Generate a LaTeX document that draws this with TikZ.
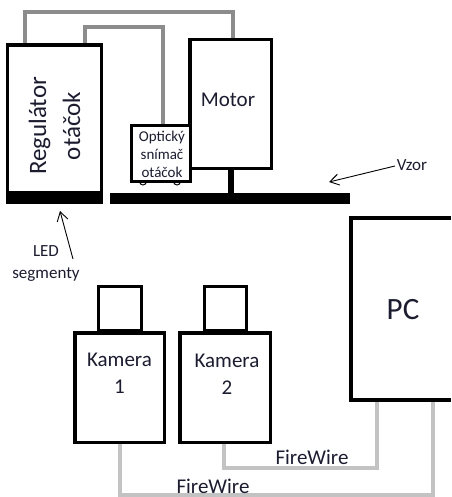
\documentclass[tikz,border=0pt]{standalone}
\usepackage{fontspec}
\setmainfont{Carlito}
\usetikzlibrary{arrows.meta,backgrounds}
\definecolor{txt}{RGB}{28,28,48}
\definecolor{ctrlgray}{RGB}{140,140,140}
\definecolor{fwgray}{RGB}{195,195,195}
\tikzset{
  box/.style={draw=black,line width=3.5pt,fill=white,inner sep=0pt,outer sep=0pt},
  barfill/.style={fill=black,draw=none,inner sep=0pt,outer sep=0pt},
  lbl/.style={text=txt,inner sep=0pt,outer sep=0pt,align=center,execute at begin node={\lineskiplimit=-50pt\lineskip=0pt}},
  ctrl/.style={draw=ctrlgray,line width=4pt},
  fw/.style={draw=fwgray,line width=4pt},
  pointer/.style={draw=black,line width=0.9pt,-{Straight Barb[length=9pt,width=11pt,line width=0.9pt]}},
}
\begin{document}
\begin{tikzpicture}[x=1pt,y=-1pt]
\useasboundingbox (0,0) rectangle (451,497);

% bars
\node[barfill,minimum width=97pt,minimum height=11pt] (led) at (54.5,198) {};
\node[barfill,minimum width=240pt,minimum height=11pt] (vzorbar) at (230,198.5) {};

% regulator
\node[box,minimum width=94pt,minimum height=148pt] (reg) at (54.5,119) {};
\node[lbl,rotate=90,font=\fontsize{25}{34}\selectfont] (regtxt) at (54.5,126) {Regulátor\\otáčok};

% motor
\node[box,minimum width=81.5pt,minimum height=128.5pt] (motor) at (230.5,104) {};
\node[lbl,font=\fontsize{21}{25}\selectfont] (motortxt) at (228,100) {Motor};
\draw[line width=6pt] (motor.south) -- (motor.south |- vzorbar.north);

% optical sensor
\node[box,minimum width=59pt,minimum height=56pt] (sensor) at (161,153.5) {};
\node[lbl,font=\fontsize{15}{18}\selectfont] (sensortxt) at (162,154) {Optický\\snímač\\otáčok};
\draw[line width=1pt] ([xshift=-21.5pt]sensor.south) arc[start angle=180,end angle=360,radius=3.5pt];
\draw[line width=1pt] ([xshift=12.5pt]sensor.south) arc[start angle=180,end angle=360,radius=3.5pt];

% PC
\node[inner sep=0pt,outer sep=0pt,minimum width=100pt,minimum height=182pt] (pc) at (401,309) {};
\draw[line width=4pt] (pc.north east) -- (pc.north west) -- (pc.south west) -- (pc.south east);
\node[lbl,font=\fontsize{31}{36}\selectfont] (pctxt) at (403,310) {PC};

% cameras
\node[box,minimum width=43pt,minimum height=44.5pt] (cam1top) at (120,308.75) {};
\node[box,minimum width=89.5pt,minimum height=109.5pt] (cam1) at (119.5,387.5) {};
\node[lbl,font=\fontsize{21}{27}\selectfont] (cam1txt) at (119.5,373) {Kamera\\1};
\node[box,minimum width=42pt,minimum height=44.5pt] (cam2top) at (225.5,308.75) {};
\node[box,minimum width=90.5pt,minimum height=109.5pt] (cam2) at (225,387.5) {};
\node[lbl,font=\fontsize{21}{27}\selectfont] (cam2txt) at (227,374) {Kamera\\2};

% labels
\node[lbl,font=\fontsize{17}{22}\selectfont] (ledtxt) at (46,264) {LED\\segmenty};
\node[lbl,font=\fontsize{17}{20}\selectfont] (vzortxt) at (412,165) {Vzor};
\node[lbl,font=\fontsize{21}{25}\selectfont] (fw1) at (312,457) {FireWire};
\node[lbl,font=\fontsize{21}{25}\selectfont] (fw2) at (213,486) {FireWire};

\coordinate (ledtail) at (73,259);
\coordinate (ledtip) at (60,211);
\coordinate (vzortip) at (329,182);
\draw[pointer] (ledtail) -- (ledtip);
\draw[pointer] ([xshift=-2pt,yshift=-1pt]vzortxt.west) -- (vzortip);

% connectors behind
\begin{scope}[on background layer]
\draw[ctrl] ([xshift=17.5pt]reg.north west) -- ++(0,-33) -| ([xshift=2.5pt]motor.north);
\draw[ctrl] ([xshift=77.5pt]reg.north west) -- ++(0,-17.5) -| ([xshift=2pt]sensor.north);
\draw[fw] ([xshift=-1pt]cam2.south) -- ++(0,26) -| ([xshift=-24pt]pc.south);
\draw[fw] (cam1.south) -- ++(0,52.5) -| ([xshift=32pt]pc.south);
\end{scope}
\end{tikzpicture}
\end{document}
